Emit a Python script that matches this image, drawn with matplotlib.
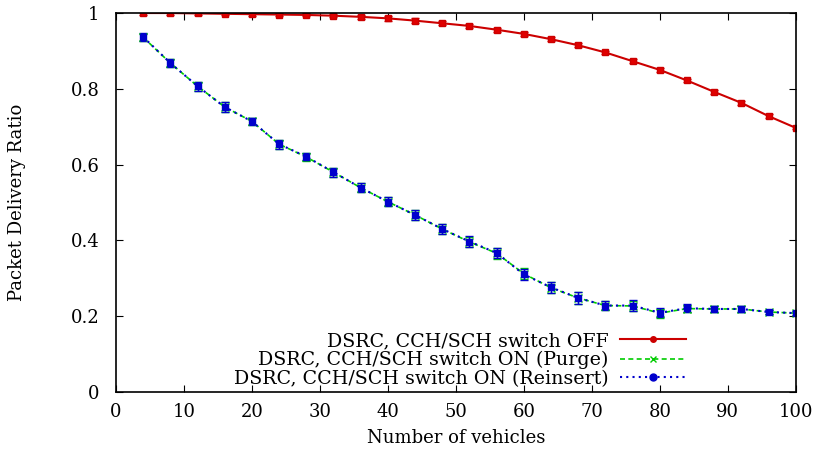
import matplotlib.pyplot as plt
from matplotlib.lines import Line2D
import numpy as np

plt.rcParams['font.family'] = ['DejaVu Serif']

# data
vehicles = [4, 8, 12, 16, 20, 24, 28, 32, 36, 40, 44, 48, 52,
            56, 60, 64, 68, 72, 76, 80, 84, 88, 92, 96, 100]
pdr_off = [1.0, 1.0, 0.999, 0.998, 0.997, 0.996, 0.995, 0.993, 0.99, 0.986, 0.98, 0.973, 0.966,
           0.956, 0.945, 0.931, 0.915, 0.896, 0.873, 0.85, 0.822, 0.792, 0.763, 0.728, 0.697]
pdr_purge = [0.936, 0.868, 0.807, 0.752, 0.714, 0.654, 0.62, 0.58, 0.539, 0.502, 0.467, 0.43, 0.396,
             0.366, 0.312, 0.275, 0.248, 0.228, 0.227, 0.208, 0.22, 0.219, 0.219, 0.211, 0.208]
pdr_reins = [0.937, 0.868, 0.807, 0.752, 0.714, 0.654, 0.621, 0.58, 0.539, 0.502, 0.467, 0.43, 0.397,
             0.367, 0.31, 0.276, 0.248, 0.228, 0.228, 0.209, 0.221, 0.219, 0.219, 0.211, 0.208]
err_off = [0.004, 0.004, 0.003, 0.003, 0.005, 0.004, 0.004, 0.004, 0.005, 0.006, 0.006, 0.005, 0.005,
           0.005, 0.005, 0.005, 0.005, 0.005, 0.005, 0.005, 0.005, 0.005, 0.005, 0.005, 0.004]
err_purge = [0.01, 0.01, 0.012, 0.012, 0.01, 0.012, 0.01, 0.012, 0.012, 0.012, 0.012, 0.013, 0.014,
             0.014, 0.015, 0.015, 0.015, 0.013, 0.014, 0.012, 0.01, 0.008, 0.008, 0.006, 0.006]

labels = ['DSRC, CCH/SCH switch OFF',
          'DSRC, CCH/SCH switch ON (Purge)',
          'DSRC, CCH/SCH switch ON (Reinsert)']

fig = plt.figure(figsize=(8.19, 4.5), dpi=100)
ax = fig.add_axes([0.1416, 0.129, 0.830, 0.842])

ax.errorbar(vehicles, pdr_off, yerr=err_off, color='#cc0000', marker='s', ms=5,
            mfc='#e00000', mec='#cc0000', lw=1.5, capsize=3, elinewidth=1)
ax.errorbar(vehicles, pdr_purge, yerr=err_purge, color='#00cc00', marker='x', ms=6,
            lw=1.2, ls=(0, (3, 2)), capsize=3, elinewidth=1)
ax.errorbar(vehicles, pdr_reins, yerr=err_purge, color='#0000cc', marker='s', ms=5,
            lw=1.5, ls=(0, (1, 2)), capsize=3, elinewidth=1)

ax.set_xlim(0, 100)
ax.set_ylim(0, 1)
ax.set_xticks(np.arange(0, 101, 10))
ax.set_yticks([0, 0.2, 0.4, 0.6, 0.8, 1.0])
ax.set_yticklabels(['0', '0.2', '0.4', '0.6', '0.8', '1'])
ax.tick_params(direction='in', top=True, right=True, labelsize=13, length=5)
ax.tick_params(axis='y', pad=12)
ax.tick_params(axis='x', pad=8)
for s in ax.spines.values():
    s.set_linewidth(1.2)

ax.set_xlabel('Number of vehicles', fontsize=13, labelpad=6)
ax.set_ylabel('Packet Delivery Ratio', fontsize=13, labelpad=32)

handles = [Line2D([], [], color='#cc0000', lw=1.5, marker='o', ms=4),
           Line2D([], [], color='#00cc00', lw=1.2, ls=(0, (3, 2)), marker='x', ms=5),
           Line2D([], [], color='#0000cc', lw=1.5, ls=(0, (1, 2)), marker='o', ms=5)]
ax.legend(handles, labels, loc='lower right', bbox_to_anchor=(0.85, -0.01), frameon=False,
          markerfirst=False, fontsize=13.7, handlelength=3.5, labelspacing=0.05,
          borderaxespad=0.0, handletextpad=0.6)

fig.savefig('out.png', dpi=100)
